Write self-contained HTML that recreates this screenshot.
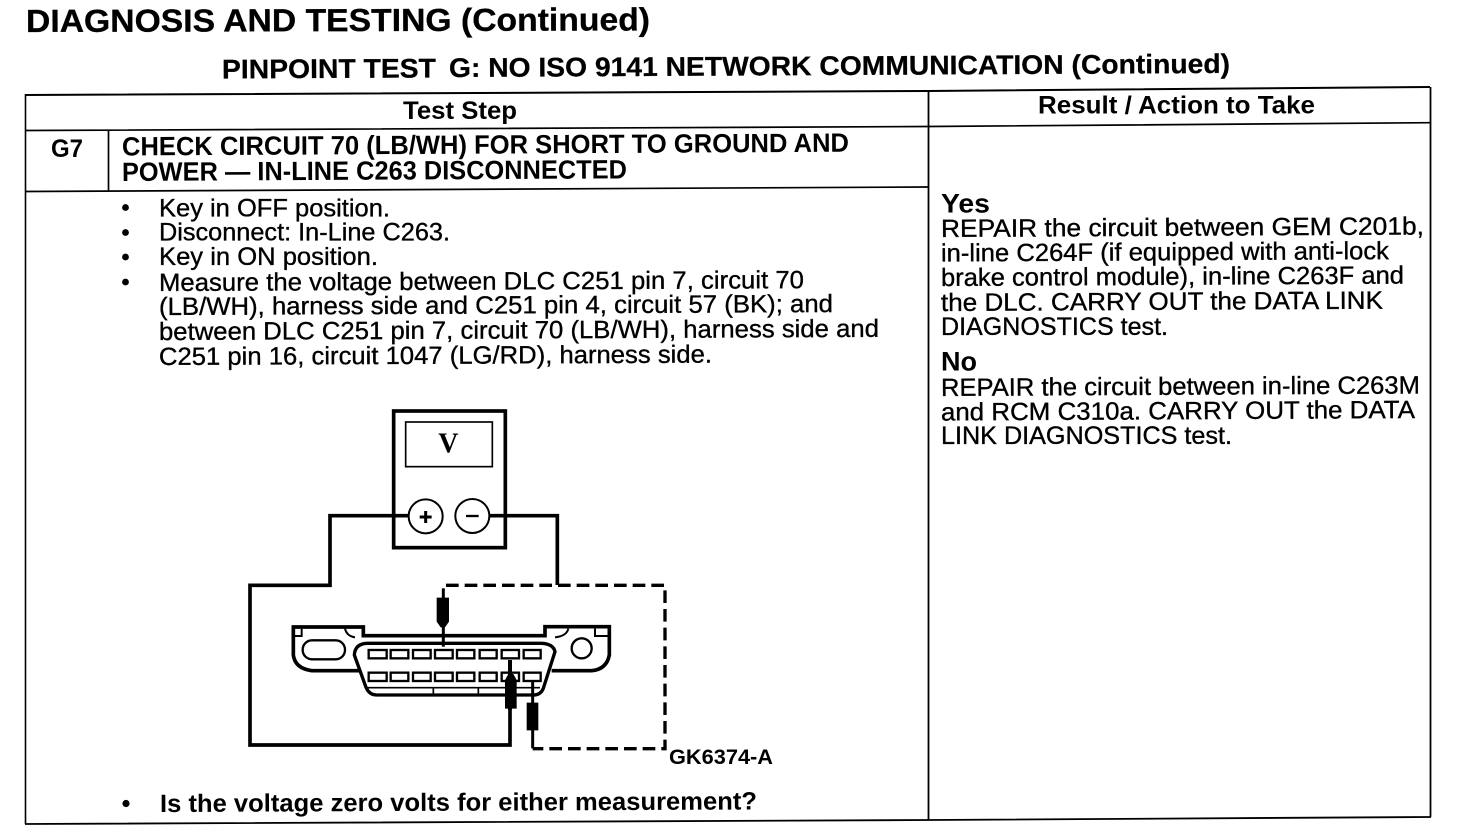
<!DOCTYPE html>
<html><head><meta charset="utf-8"><style>
html,body{margin:0;padding:0;background:#fff;width:1472px;height:840px;overflow:hidden}
svg{display:block}
text{font-family:"Liberation Sans",Arial,sans-serif;fill:#000}
.b{font-weight:bold}
.r{stroke:#000;stroke-width:.35px}
</style></head><body>
<svg width="1472" height="840" viewBox="0 0 1472 840" xmlns="http://www.w3.org/2000/svg">
<rect width="1472" height="840" fill="#fff"/>
<!-- table -->
<g stroke="#000" fill="none">
<path d="M25 95 L928 91 L1430 87" stroke-width="2"/>
<path d="M25 130.5 L928 126.5 L1430 122.7" stroke-width="1.7"/>
<path d="M25 191.5 L928 187" stroke-width="1.7"/>
<path d="M25 824 L929 820 L1431 817" stroke-width="1.8"/>
<path d="M25.5 94 V824" stroke-width="1.6"/>
<path d="M108.5 130 V191" stroke-width="1.7"/>
<path d="M928.5 91 V820" stroke-width="1.8"/>
<path d="M1430.5 87 V817" stroke-width="1.8"/>
</g>
<!-- headings -->
<g class="b">
<text x="26" y="32" font-size="32" textLength="624" lengthAdjust="spacingAndGlyphs" stroke="#000" stroke-width=".3" transform="rotate(-.15 26 32)">DIAGNOSIS AND TESTING (Continued)</text>
<text x="222" y="78.5" font-size="27" textLength="214" lengthAdjust="spacingAndGlyphs" stroke="#000" stroke-width=".25" transform="rotate(-.3 222 78.5)">PINPOINT TEST</text>
<text x="449" y="77" font-size="27" textLength="781" lengthAdjust="spacingAndGlyphs" stroke="#000" stroke-width=".25" transform="rotate(-.3 449 77)">G: NO ISO 9141 NETWORK COMMUNICATION (Continued)</text>
<text x="403" y="119" font-size="25" textLength="114" lengthAdjust="spacingAndGlyphs">Test Step</text>
<text x="1038" y="113.5" font-size="25" textLength="277" lengthAdjust="spacingAndGlyphs">Result / Action to Take</text>
<text x="51" y="157" font-size="25" textLength="32" lengthAdjust="spacingAndGlyphs">G7</text>
<text x="122" y="155.5" font-size="26.5" textLength="727" lengthAdjust="spacingAndGlyphs" transform="rotate(-.3 122 155.5)">CHECK CIRCUIT 70 (LB/WH) FOR SHORT TO GROUND AND</text>
<text x="122" y="181" font-size="26.5" textLength="505" lengthAdjust="spacingAndGlyphs" transform="rotate(-.3 122 181)">POWER — IN-LINE C263 DISCONNECTED</text>
</g>
<!-- body -->
<g font-size="25" class="r">
<text x="159" y="216.5" textLength="231" lengthAdjust="spacingAndGlyphs">Key in OFF position.</text>
<text x="159" y="240.5" textLength="291" lengthAdjust="spacingAndGlyphs">Disconnect: In-Line C263.</text>
<text x="159" y="265" textLength="219" lengthAdjust="spacingAndGlyphs">Key in ON position.</text>
<text x="159" y="291" textLength="645" lengthAdjust="spacingAndGlyphs" transform="rotate(-.25 159 291)">Measure the voltage between DLC C251 pin 7, circuit 70</text>
<text x="159" y="315" textLength="674" lengthAdjust="spacingAndGlyphs" transform="rotate(-.25 159 315)">(LB/WH), harness side and C251 pin 4, circuit 57 (BK); and</text>
<text x="159" y="340" textLength="720" lengthAdjust="spacingAndGlyphs" transform="rotate(-.25 159 340)">between DLC C251 pin 7, circuit 70 (LB/WH), harness side and</text>
<text x="159" y="365" textLength="553" lengthAdjust="spacingAndGlyphs" transform="rotate(-.25 159 365)">C251 pin 16, circuit 1047 (LG/RD), harness side.</text>
<text x="941" y="237" textLength="483" lengthAdjust="spacingAndGlyphs" transform="rotate(-.3 941 237)">REPAIR the circuit between GEM C201b,</text>
<text x="941" y="261.5" textLength="448" lengthAdjust="spacingAndGlyphs" transform="rotate(-.3 941 261.5)">in-line C264F (if equipped with anti-lock</text>
<text x="941" y="286" textLength="463" lengthAdjust="spacingAndGlyphs" transform="rotate(-.3 941 286)">brake control module), in-line C263F and</text>
<text x="941" y="311" textLength="442" lengthAdjust="spacingAndGlyphs" transform="rotate(-.3 941 311)">the DLC. CARRY OUT the DATA LINK</text>
<text x="941" y="335" textLength="227" lengthAdjust="spacingAndGlyphs">DIAGNOSTICS test.</text>
<text x="941" y="396" textLength="479" lengthAdjust="spacingAndGlyphs" transform="rotate(-.3 941 396)">REPAIR the circuit between in-line C263M</text>
<text x="941" y="420.5" textLength="474" lengthAdjust="spacingAndGlyphs" transform="rotate(-.3 941 420.5)">and RCM C310a. CARRY OUT the DATA</text>
<text x="941" y="444" textLength="291" lengthAdjust="spacingAndGlyphs">LINK DIAGNOSTICS test.</text>
</g>
<text class="b" x="941" y="212.5" font-size="27" textLength="49" lengthAdjust="spacingAndGlyphs">Yes</text>
<text class="b" x="941" y="370.5" font-size="27" textLength="36" lengthAdjust="spacingAndGlyphs">No</text>
<text class="b" x="160" y="812" font-size="25" textLength="597" lengthAdjust="spacingAndGlyphs" transform="rotate(-.25 160 812)">Is the voltage zero volts for either measurement?</text>
<text class="b" x="669" y="764" font-size="21.5" textLength="104" lengthAdjust="spacingAndGlyphs">GK6374-A</text>
<!-- bullets -->
<g fill="#000">
<circle cx="125.5" cy="207.5" r="3.4"/><circle cx="125.5" cy="232.5" r="3.4"/><circle cx="125.5" cy="257" r="3.4"/><circle cx="125.5" cy="282" r="3.4"/><circle cx="126" cy="803.5" r="3.6"/>
</g>
<!-- diagram (coordinates in 3x crop space) -->
<g transform="translate(230 400) scale(.33333)" fill="none" stroke="#000" stroke-linejoin="miter">
<rect x="491" y="33" width="335" height="410" stroke-width="11"/>
<rect x="527" y="66" width="260" height="134" stroke-width="5"/>
<text x="655" y="158" font-size="84" text-anchor="middle" stroke="none" font-weight="bold" style="font-family:'Liberation Serif',serif">V</text>
<path d="M535 347 H300 V556 H60 V1035 H840 V780" stroke-width="11"/>
<path d="M780 347 H982 V555" stroke-width="11"/>
<circle cx="587" cy="349" r="51" fill="#fff" stroke-width="6"/>
<circle cx="727" cy="348" r="51" fill="#fff" stroke-width="6"/>
<path d="M569 351 H605 M587 333 V369" stroke-width="9"/>
<path d="M708 348 H746" stroke-width="7"/>
<path d="M648 556 H1305 V1046 H908" stroke-width="10" stroke-dasharray="38 18"/>
<path d="M640 565 V740" stroke-width="9"/>
<path d="M908 845 V1045" stroke-width="9"/>
<!-- connector -->
<path d="M390 812 H245 Q195 805 190 765 V681 H400 V707 H945 V680 H1138 V765 Q1130 808 1085 812 H965" stroke-width="11"/>
<path d="M195 708 H215 V686 M1095 686 V708 H1135 M345 686 Q350 708 375 712 M1015 686 Q1010 708 975 712" stroke-width="6"/>
<path d="M373 765 Q375 732 410 730 H935 Q970 732 975 755 L940 865 Q932 885 910 885 H440 Q418 885 408 862 Z" stroke-width="10"/>
<path d="M410 863 H930 M610 863 V885 M745 863 V885" stroke-width="5"/>
<rect x="218" y="721" width="127" height="57" rx="28" stroke-width="7"/>
<circle cx="1055" cy="745" r="30" stroke-width="7"/>
<g stroke-width="7">
<rect x="416" y="750" width="54" height="25"/><rect x="482" y="750" width="53" height="25"/><rect x="549" y="750" width="53" height="25"/><rect x="615" y="750" width="53" height="25"/><rect x="681" y="750" width="52" height="25"/><rect x="749" y="750" width="51" height="25"/><rect x="815" y="750" width="52" height="25"/><rect x="881" y="750" width="51" height="25"/>
<rect x="416" y="818" width="54" height="25"/><rect x="482" y="818" width="53" height="25"/><rect x="549" y="818" width="53" height="25"/><rect x="615" y="818" width="53" height="25"/><rect x="681" y="818" width="52" height="25"/><rect x="749" y="818" width="51" height="25"/><rect x="815" y="818" width="52" height="25"/><rect x="881" y="818" width="51" height="25"/>
</g>
<!-- probes -->
<g fill="#000" stroke="none">
<path d="M620 593 H657 V665 L645 682 H632 L620 665 Z"/>
<path d="M825 840 L835 822 H850 L860 840 V926 H825 Z"/>
<path d="M890 908 H925 V991 H890 Z"/>
</g>
<path d="M840 780 V930" stroke-width="12"/>
</g>
</svg>
</body></html>
